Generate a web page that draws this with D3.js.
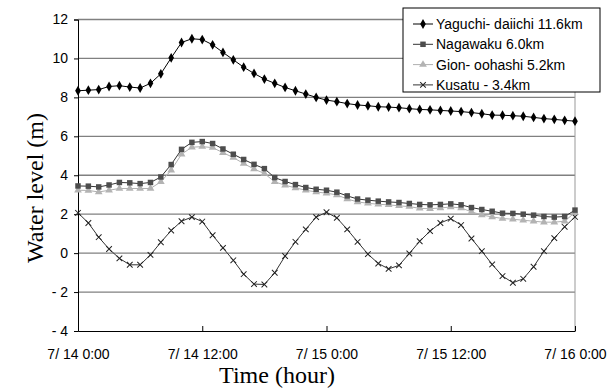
<html>
  <meta charset="utf-8" />
  <script src="https://d3js.org/d3.v7.min.js"></script>
  <style>
    body { margin: 0; background: #fff; }
    text { font-family: Arial, "Liberation Sans", sans-serif; }
  </style>
  <body>
    <svg width="608" height="389" id="chart"></svg>
    <script>
      // hours from 7/14 0:00
      const hours = d3.range(0, 49);
      const tickHours = [0, 12, 24, 36, 48];
      const tickLabels = ["7/ 14 0:00", "7/ 14 12:00", "7/ 15 0:00", "7/ 15 12:00", "7/ 16 0:00"];
      const yTicks = [-4, -2, 0, 2, 4, 6, 8, 10, 12];

      const seriesNames = ["Yaguchi- daiichi 11.6km", "Nagawaku 6.0km", "Gion- oohashi 5.2km", "Kusatu - 3.4km"];

      const yaguchi = [8.34, 8.37, 8.40, 8.56, 8.60, 8.53, 8.48, 8.72, 9.21,
        10.03, 10.82, 11.01, 10.97, 10.70, 10.31, 9.93, 9.55, 9.23,
        8.94, 8.72, 8.51, 8.34, 8.17, 8.00, 7.86, 7.78, 7.68,
        7.61, 7.57, 7.52, 7.50, 7.47, 7.42, 7.38, 7.36, 7.33,
        7.30, 7.27, 7.22, 7.16, 7.09, 7.08, 7.06, 7.03, 6.97, 6.91, 6.87, 6.82, 6.78];
      const nagawaku = [3.45, 3.44, 3.40, 3.50, 3.63, 3.61, 3.57, 3.63, 3.91,
        4.55, 5.33, 5.69, 5.73, 5.63, 5.35, 5.08, 4.81, 4.56,
        4.34, 3.88, 3.68, 3.52, 3.37, 3.28, 3.23, 3.13, 2.94,
        2.78, 2.72, 2.67, 2.63, 2.60, 2.55, 2.50, 2.48, 2.50,
        2.53, 2.48, 2.34, 2.24, 2.15, 2.05, 2.04, 2.00, 1.95, 1.88, 1.85, 1.88, 2.21];
      const gion = [3.23, 3.22, 3.14, 3.23, 3.32, 3.32, 3.32, 3.32, 3.66,
        4.26, 5.08, 5.44, 5.47, 5.42, 5.16, 4.91, 4.60, 4.32,
        4.09, 3.66, 3.49, 3.35, 3.23, 3.14, 3.08, 2.99, 2.78,
        2.63, 2.56, 2.51, 2.48, 2.43, 2.39, 2.30, 2.28, 2.32,
        2.37, 2.32, 2.12, 1.96, 1.86, 1.78, 1.74, 1.69, 1.64, 1.59, 1.59, 1.64, 2.09];
      const kusatu = [2.07, 1.55, 0.82, 0.21, -0.27, -0.60, -0.60, -0.09, 0.56,
        1.16, 1.64, 1.85, 1.62, 0.92, 0.27, -0.37, -1.08, -1.59,
        -1.61, -1.01, -0.15, 0.58, 1.22, 1.85, 2.10, 1.81, 1.22,
        0.58, -0.05, -0.53, -0.81, -0.63, -0.02, 0.61, 1.13, 1.55,
        1.77, 1.44, 0.75, 0.10, -0.58, -1.18, -1.52, -1.32, -0.70, 0.10, 0.77, 1.35, 1.86];

      const series = [
        { name: seriesNames[0], values: yaguchi, line: "#000", mark: "#000", symbol: d3.symbolDiamond, size: 28 },
        { name: seriesNames[1], values: nagawaku, line: "#333", mark: "#4d4d4d", symbol: d3.symbolSquare, size: 30 },
        { name: seriesNames[2], values: gion, line: "#b0b0b0", mark: "#b3b3b3", symbol: d3.symbolTriangle, size: 26 },
        { name: seriesNames[3], values: kusatu, line: "#333", mark: "#222", symbol: d3.symbolCross, size: 24, cross: true }
      ];

      const plotLeft = 78, plotRight = 575, plotTop = 19.5, plotBottom = 331;

      const x = d3.scaleLinear().domain([0, 48]).range([plotLeft, plotRight]);
      const y = d3.scaleLinear().domain([-4, 12]).range([plotBottom, plotTop]);

      const svg = d3.select("#chart");

      // gridlines
      svg.append("g")
        .selectAll("line")
        .data(yTicks.filter((d) => d > -4))
        .enter()
        .append("line")
        .attr("x1", plotLeft)
        .attr("x2", plotRight)
        .attr("y1", (d) => y(d))
        .attr("y2", (d) => y(d))
        .attr("stroke", "#808080")
        .attr("stroke-width", 1.3);

      // right border
      svg.append("line")
        .attr("x1", plotRight).attr("x2", plotRight)
        .attr("y1", plotTop).attr("y2", plotBottom)
        .attr("stroke", "#999").attr("stroke-width", 1);

      // y axis
      const yAxis = svg.append("g")
        .attr("transform", `translate(${plotLeft}, 0)`)
        .call(d3.axisLeft(y).tickValues(yTicks).tickSize(4)
          .tickFormat((d) => (d < 0 ? "- " + Math.abs(d) : d)));
      yAxis.select(".domain").attr("stroke", "#000");
      yAxis.selectAll("text").attr("font-size", 14).attr("font-family", "Arial, 'Liberation Sans'")
        .attr("x", -10).attr("fill", "#000");

      // x axis, ticks point inward
      const xAxis = svg.append("g")
        .attr("transform", `translate(0, ${plotBottom})`)
        .call(d3.axisBottom(x).tickValues(tickHours).tickSizeInner(-5).tickSizeOuter(0)
          .tickFormat((d, i) => tickLabels[i]));
      xAxis.select(".domain").attr("stroke", "#000");
      xAxis.selectAll("text").attr("font-size", 14).attr("font-family", "Arial, 'Liberation Sans'")
        .attr("y", 18).attr("dy", "0.71em").attr("fill", "#000");

      // lines and markers
      const line = d3.line()
        .x((d, i) => x(hours[i]))
        .y((d) => y(d));

      series.slice().reverse().forEach((s) => {
        svg.append("path")
          .datum(s.values)
          .attr("d", line)
          .attr("fill", "none")
          .attr("stroke", s.line)
          .attr("stroke-width", 1);

        const marks = svg.append("g");
        if (s.cross) {
          marks.selectAll("path")
            .data(s.values)
            .enter()
            .append("path")
            .attr("transform", (d, i) => `translate(${x(hours[i])}, ${y(d)}) rotate(45)`)
            .attr("d", "M-4,0H4M0,-4V4")
            .attr("stroke", s.mark)
            .attr("stroke-width", 1);
        } else {
          marks.selectAll("path")
            .data(s.values)
            .enter()
            .append("path")
            .attr("transform", (d, i) => `translate(${x(hours[i])}, ${y(d)})`)
            .attr("d", d3.symbol().type(s.symbol).size(s.size))
            .attr("fill", s.mark);
        }
      });

      // legend
      const legend = svg.append("g").attr("transform", "translate(403, 8)");
      legend.append("rect")
        .attr("width", 197).attr("height", 84)
        .attr("fill", "#fff").attr("stroke", "#000").attr("stroke-width", 1);

      series.forEach((s, i) => {
        const ly = 16 + i * 20.3;
        legend.append("line")
          .attr("x1", 10).attr("x2", 30)
          .attr("y1", ly).attr("y2", ly)
          .attr("stroke", s.line).attr("stroke-width", 1);
        if (s.cross) {
          legend.append("path")
            .attr("transform", `translate(20, ${ly}) rotate(45)`)
            .attr("d", "M-4,0H4M0,-4V4")
            .attr("stroke", s.mark);
        } else {
          legend.append("path")
            .attr("transform", `translate(20, ${ly})`)
            .attr("d", d3.symbol().type(s.symbol).size(s.size))
            .attr("fill", s.mark);
        }
        legend.append("text")
          .attr("x", 33)
          .attr("y", ly)
          .attr("dy", "0.36em")
          .attr("font-size", 14)
          .text(s.name);
      });

      // axis titles
      svg.append("text")
        .attr("x", 277)
        .attr("y", 383)
        .attr("text-anchor", "middle")
        .style("font-family", "'Liberation Serif', 'Times New Roman', serif")
        .attr("font-size", 24)
        .text("Time (hour)");

      svg.append("text")
        .attr("transform", "translate(43, 188) rotate(-90)")
        .attr("text-anchor", "middle")
        .style("font-family", "'Liberation Serif', 'Times New Roman', serif")
        .attr("font-size", 24)
        .text("Water level (m)");
    </script>
  </body>
</html>
